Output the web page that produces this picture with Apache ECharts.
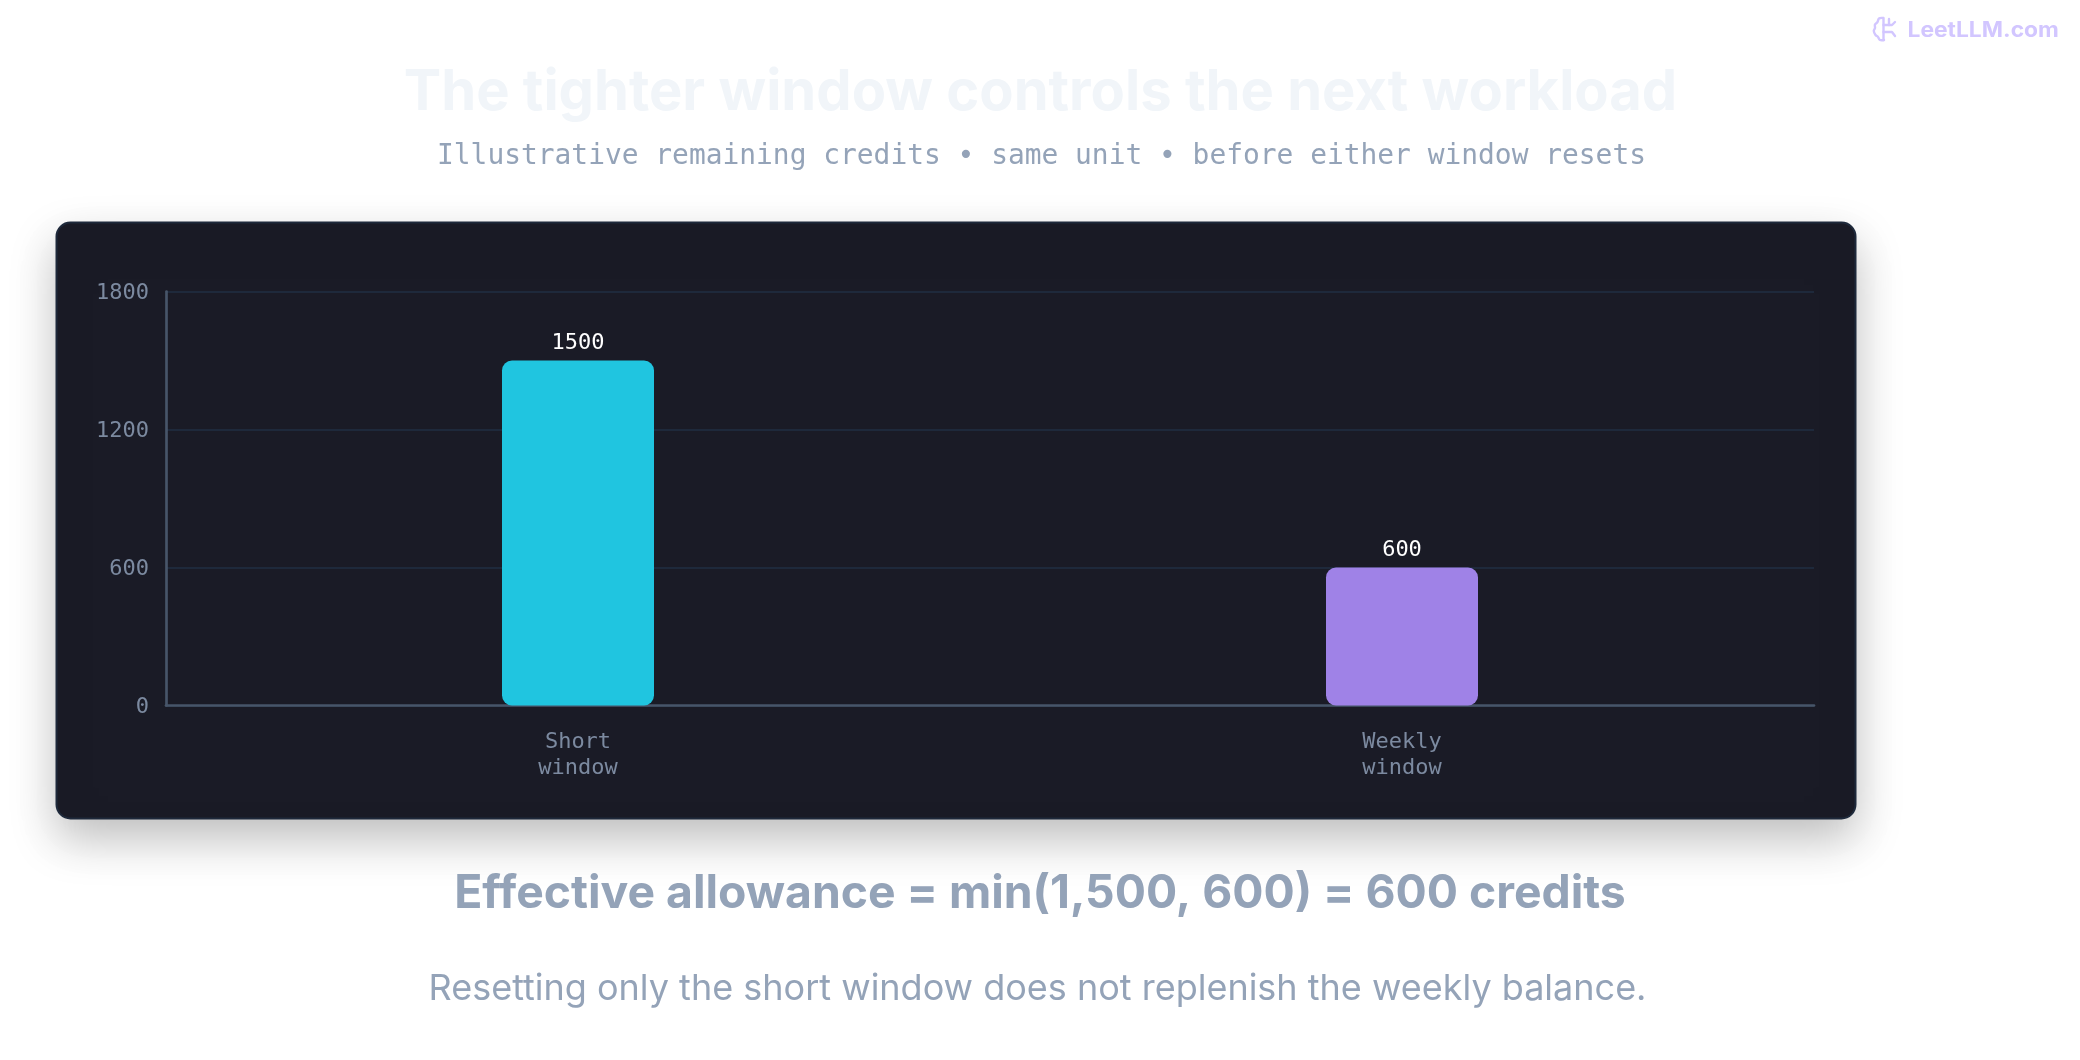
<!DOCTYPE html>
<html lang="en">
<head>
<meta charset="UTF-8">
<title>The tighter window controls the next workload</title>
<script src="https://cdn.jsdelivr.net/npm/echarts@6/dist/echarts.min.js"></script>
<style>
  html, body { margin: 0; padding: 0; background: #ffffff; }
  #main { width: 2080px; height: 1060px; }
</style>
</head>
<body>
<div id="main"></div>
<script>
var categories = ['Short\nwindow', 'Weekly\nwindow'];
var credits = [1500, 600];
var barColors = ['#20c5e0', '#9f82e7'];
var yTicks = [0, 600, 1200, 1800];
var titleText = 'The tighter window controls the next workload';
var subtitleText = 'Illustrative remaining credits \u2022 same unit \u2022 before either window resets';
var formulaText = 'Effective allowance = min(1,500, 600) = 600 credits';
var noteText = 'Resetting only the short window does not replenish the weekly balance.';
var brandText = 'LeetLLM.com';

var MONO = '"DejaVu Sans Mono", monospace';
var BRAND = '#d2c6ff';

var chart = echarts.init(document.getElementById('main'));

function centered(text, x, y, size, weight, color, family) {
  return {
    type: 'text', x: x, y: y, z: 5,
    style: { text: text, fill: color, font: weight + ' ' + size + 'px ' + family, textAlign: 'center', textVerticalAlign: 'middle' }
  };
}

// small brain logo next to the watermark
function logoStroke(points, smooth) {
  return {
    type: 'polyline',
    shape: { points: points, smooth: smooth || 0 },
    style: { fill: 'none', stroke: BRAND, lineWidth: 2.4, lineCap: 'round', lineJoin: 'round' }
  };
}

chart.setOption({
  backgroundColor: '#ffffff',
  animation: false,
  graphic: [
    {
      type: 'rect', z: -10, silent: true,
      shape: { x: 56.5, y: 222.5, width: 1799, height: 596, r: 14 },
      style: { fill: '#1a1b26', stroke: '#1e293b', lineWidth: 2, shadowBlur: 45, shadowOffsetY: 20, shadowColor: 'rgba(0,0,0,0.25)' }
    },
    centered(titleText, 1040.5, 93.5, 56.1, 700, '#f1f5f9', 'Inter'),
    centered(subtitleText, 1041.5, 157, 27.9, 400, '#94a3b8', MONO),
    centered(formulaText, 1040, 894, 46.3, 700, '#94a3b8', 'Inter'),
    centered(noteText, 1037.5, 989, 36, 400, '#94a3b8', 'Inter'),
    {
      type: 'text', x: 1907.5, y: 31, z: 5, scaleX: 1.086,
      style: { text: brandText, fill: BRAND, font: '700 21px Inter', textAlign: 'left', textVerticalAlign: 'middle' }
    },
    {
      type: 'group', x: 1873, y: 17, z: 5,
      children: [
        logoStroke([[10, 1], [6, 1.5], [4.5, 5], [2, 7.5], [2, 11], [0.8, 14], [2.5, 18], [5, 20], [7, 23], [11, 23]], 0.4),
        logoStroke([[10.5, 1], [10.5, 23]]),
        logoStroke([[10.5, 8], [19, 8], [22, 5]]),
        logoStroke([[10.5, 15], [19, 15], [22, 19]]),
        logoStroke([[16, 8], [16, 2]])
      ]
    }
  ],
  grid: { left: 166, right: 266, top: 291.5, height: 414 },
  xAxis: {
    type: 'category',
    data: categories,
    axisLine: { lineStyle: { color: '#475569', width: 2.67 } },
    axisTick: { show: false },
    axisLabel: { color: '#7c8aa0', fontFamily: MONO, fontSize: 22, lineHeight: 26, margin: 23.5 }
  },
  yAxis: {
    type: 'value',
    min: yTicks[0],
    max: yTicks[yTicks.length - 1],
    interval: yTicks[1],
    axisLine: { show: true, lineStyle: { color: '#475569', width: 2.67 } },
    axisTick: { show: false },
    axisLabel: {
      margin: 17,
      formatter: function (v) { return '{t|' + v + '}'; },
      rich: { t: { color: '#7c8aa0', fontFamily: MONO, fontSize: 22, padding: [4, 0, 0, 0] } }
    },
    splitLine: { lineStyle: { color: '#1e293b', width: 2 } }
  },
  series: [{
    type: 'bar',
    barWidth: 152,
    data: credits.map(function (v, i) {
      return { value: v, itemStyle: { color: barColors[i], borderRadius: 10 } };
    }),
    label: { show: true, position: 'top', distance: 6, color: '#ffffff', fontFamily: MONO, fontSize: 22 }
  }]
});
</script>
</body>
</html>
